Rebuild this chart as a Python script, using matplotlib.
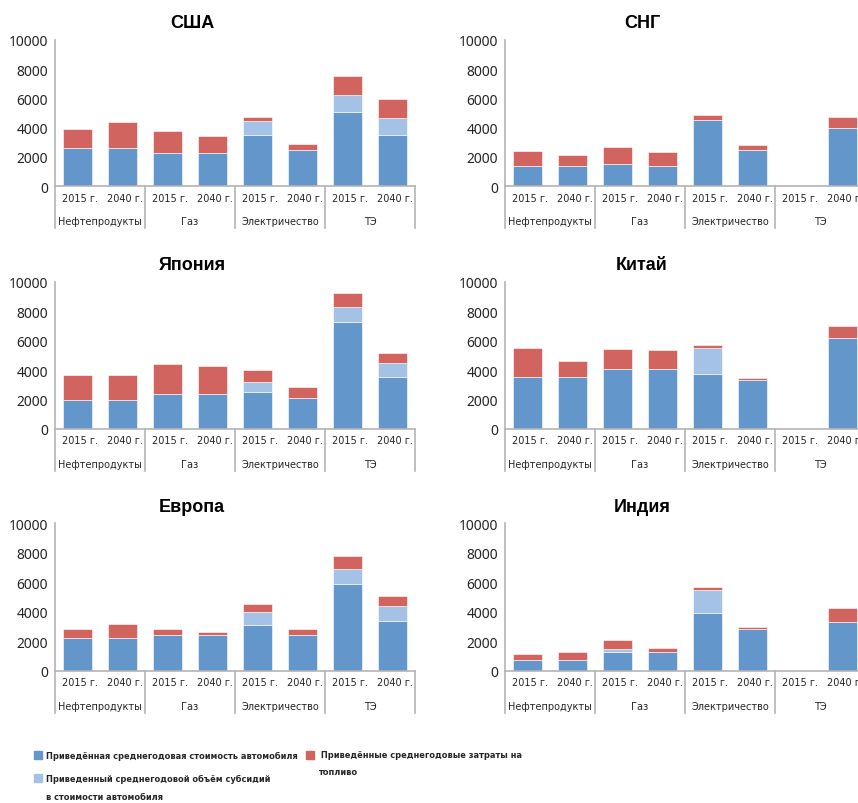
import matplotlib.pyplot as plt
from matplotlib.patches import Rectangle
from matplotlib.transforms import blended_transform_factory
import numpy as np

W, H = 858, 804

years = ["2015 г.", "2040 г."]
fuels = ["Нефтепродукты", "Газ", "Электричество", "ТЭ"]

usa_car = [2600, 2600, 2300, 2300, 3500, 2500, 5100, 3500]
usa_subsidy = [0, 0, 0, 0, 950, 0, 1150, 1150]
usa_fuel = [1300, 1800, 1500, 1150, 300, 400, 1300, 1300]

cis_car = [1400, 1400, 1500, 1400, 4550, 2500, 0, 4000]
cis_subsidy = [0, 0, 0, 0, 0, 0, 0, 0]
cis_fuel = [1000, 750, 1200, 950, 300, 300, 0, 750]

japan_car = [2000, 2000, 2350, 2350, 2500, 2100, 7250, 3500]
japan_subsidy = [0, 0, 0, 0, 700, 0, 1050, 1000]
japan_fuel = [1650, 1650, 2050, 1950, 800, 750, 950, 650]

china_car = [3500, 3500, 4100, 4100, 3750, 3300, 0, 6150]
china_subsidy = [0, 0, 0, 0, 1750, 0, 0, 0]
china_fuel = [2000, 1100, 1350, 1250, 200, 150, 0, 850]

europe_car = [2200, 2200, 2400, 2400, 3100, 2400, 5900, 3400]
europe_subsidy = [0, 0, 0, 0, 900, 0, 1000, 1000]
europe_fuel = [650, 950, 450, 250, 500, 450, 850, 650]

india_car = [700, 700, 1250, 1250, 3900, 2850, 0, 3300]
india_subsidy = [0, 0, 200, 0, 1550, 0, 0, 0]
india_fuel = [400, 550, 650, 300, 250, 100, 0, 950]

# legend entries, one list of lines per series
legend_car = ["Приведённая среднегодовая стоимость автомобиля"]
legend_sub = ["Приведенный среднегодовой объём субсидий", "в стоимости автомобиля"]
legend_fuel = [" Приведённые среднегодовые затраты на", "топливо"]

panels = [
    ("США", usa_car, usa_subsidy, usa_fuel),
    ("СНГ", cis_car, cis_subsidy, cis_fuel),
    ("Япония", japan_car, japan_subsidy, japan_fuel),
    ("Китай", china_car, china_subsidy, china_fuel),
    ("Европа", europe_car, europe_subsidy, europe_fuel),
    ("Индия", india_car, india_subsidy, india_fuel),
]

c_car = "#6397cb"
c_sub = "#a3c2e6"
c_fuel = "#d1645e"
c_axis = "#b4b4b4"
c_text = "#262626"

fig = plt.figure(figsize=(W / 100, H / 100), dpi=100)

# pixel layout of the plotting areas
col_x = [55, 505]
rows = [(40.7, 187.3), (282.7, 430.0), (524.3, 671.7)]
area_w = 360

x = np.arange(8)
for i, (name, car, sub, fuel) in enumerate(panels):
    r, c = divmod(i, 2)
    top, bot = rows[r]
    x0 = col_x[c]
    ax = fig.add_axes([x0 / W, 1 - bot / H, area_w / W, (bot - top) / H])
    car = np.array(car)
    sub = np.array(sub)
    fuel = np.array(fuel)
    kw = dict(width=0.64, edgecolor="white", linewidth=0.4)
    ax.bar(x, car, color=c_car, **kw)
    ax.bar(x, sub, bottom=car, color=c_sub, **kw)
    ax.bar(x, fuel, bottom=car + sub, color=c_fuel, **kw)
    ax.set_xlim(-0.5, 7.5)
    ax.set_ylim(0, 10000)
    ax.set_yticks(range(0, 10001, 2000))
    ax.tick_params(axis="y", length=0, pad=5, labelsize=10, labelcolor=c_text)
    for lab in ax.get_yticklabels():
        lab.set_fontfamily("Noto Sans")
    ax.set_xticks([])
    for s in ["top", "right"]:
        ax.spines[s].set_visible(False)
    for s in ["left", "bottom"]:
        ax.spines[s].set_color(c_axis)
        ax.spines[s].set_linewidth(1.2)

    h = bot - top
    tr = blended_transform_factory(ax.transData, ax.transAxes)
    for k in range(8):
        ax.text(k + 0.05, -11.5 / h, years[k % 2], transform=tr, ha="center", va="center",
                fontsize=7, color=c_text, family="DejaVu Sans")
    for g, f in enumerate(fuels):
        ax.text(2 * g + 0.5, -35 / h, f, transform=tr, ha="center", va="center",
                fontsize=7, color=c_text, family="DejaVu Sans")
    for b in [-0.5, 1.5, 3.5, 5.5, 7.5]:
        ax.plot([b, b], [0, -42 / h], transform=tr, color=c_axis, lw=1.2, clip_on=False)

    fig.text((x0 - 43 + 180) / W, 1 - (top - 17) / H, name, ha="center", va="center",
             fontsize=13, fontweight="bold", family="Liberation Sans", color="black")

# legend, drawn by hand to keep the two-column wrapped layout
lg_font = dict(fontsize=6.6, fontweight="bold", color=c_text,
               family="DejaVu Sans", fontstretch="condensed")
items = [(34, 46, [756], c_car, legend_car),
         (34, 46, [779, 798], c_sub, legend_sub),
         (306, 318, [756, 773], c_fuel, legend_fuel)]
for sx, tx, ys, col, lines in items:
    fig.patches.append(Rectangle((sx / W, 1 - (ys[0] + 4) / H), 8 / W, 8 / H,
                                 transform=fig.transFigure, color=col))
    for ty, line in zip(ys, lines):
        fig.text(tx / W, 1 - ty / H, line, ha="left", va="center", **lg_font)

fig.savefig("out.png", dpi=100)
